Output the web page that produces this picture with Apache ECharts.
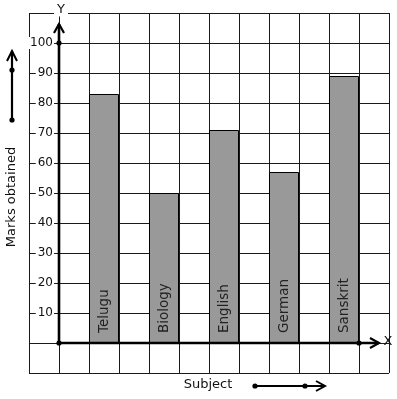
<!DOCTYPE html>
<html><head><meta charset="utf-8">
<script src="https://cdn.jsdelivr.net/npm/echarts@6/dist/echarts.min.js"></script>
<style>html,body{margin:0;padding:0;background:#fff}#c{width:397px;height:399px}</style>
</head><body><div id="c"></div>
<script>
const subjects = ['Telugu', 'Biology', 'English', 'German', 'Sanskrit'];
const marks = [83, 50, 71, 57, 89];
const yTickLabels = [10, 20, 30, 40, 50, 60, 70, 80, 90, 100];
const xAxisLetter = 'X';
const yAxisLetter = 'Y';
const xTitle = 'Subject';
const yTitle = 'Marks obtained';

const FONT = 'DejaVu Sans';
const chart = echarts.init(document.getElementById('c'), null, {renderer: 'canvas'});
const barData = subjects.map((s, i) => ({name: s, value: [1.5 + 2 * i, marks[i]]}));
const gridLine = {show: true, lineStyle: {color: '#1a1a1a', width: 1}};

chart.setOption({
  animation: false,
  grid: {left: 29, top: 13, width: 360, height: 360, containLabel: false},
  xAxis: {type: 'value', min: -1, max: 11, interval: 1,
    axisLine: {show: false}, axisTick: {show: false}, axisLabel: {show: false}, splitLine: gridLine},
  yAxis: {type: 'value', min: -10, max: 110, interval: 10,
    axisLine: {show: false}, axisTick: {show: false}, splitLine: gridLine,
    axisLabel: {inside: true, margin: 25, align: 'right', fontSize: 12, color: '#111', fontFamily: FONT,
      backgroundColor: '#fff', padding: [0, 1, 0, 2],
      formatter: v => yTickLabels.includes(v) ? String(v) : ''}},
  series: [{type: 'bar', data: barData, barWidth: 30,
    itemStyle: {color: '#999999', borderColor: '#000', borderWidth: 1},
    label: {show: true, position: 'insideBottom', rotate: 90, align: 'left', verticalAlign: 'middle',
      distance: 10, formatter: p => p.name, fontSize: 13.5, color: '#222', fontFamily: FONT}}]
});

const o = chart.convertToPixel({gridIndex: 0}, [0, 0]);
const y100 = chart.convertToPixel({gridIndex: 0}, [0, 100]);
const x10 = chart.convertToPixel({gridIndex: 0}, [10, 0]);
const yTip = y100[1] - 19, xTip = x10[0] + 20;
const stroke = (w) => ({stroke: '#000', lineWidth: w, fill: null});
const dot = (x, y) => ({type: 'circle', shape: {cx: x, cy: y, r: 2.6}, style: {fill: '#000'}, z: 101});
const txt = (t, x, y, extra) => Object.assign({type: 'text', z: 102,
  style: Object.assign({text: t, x: x, y: y, fill: '#111', font: '13px "' + FONT + '"', align: 'center', verticalAlign: 'middle'}, extra || {})});

chart.setOption({graphic: [
  {type: 'polyline', shape: {points: [[o[0], o[1]], [o[0], yTip]]}, style: stroke(2.6), z: 100},
  {type: 'polyline', shape: {points: [[o[0] - 5, yTip + 9], [o[0], yTip], [o[0] + 5, yTip + 9]]}, style: stroke(2.2), z: 100},
  {type: 'polyline', shape: {points: [[o[0], o[1]], [xTip, o[1]]]}, style: stroke(2.6), z: 100},
  {type: 'polyline', shape: {points: [[xTip - 9, o[1] - 5], [xTip, o[1]], [xTip - 9, o[1] + 5]]}, style: stroke(2.2), z: 100},
  dot(o[0], o[1]), dot(y100[0], y100[1]), dot(x10[0], x10[1]),
  txt(yAxisLetter, o[0] + 2, 10, {backgroundColor: '#fff', padding: [0, 3]}),
  txt(xAxisLetter, xTip + 9, o[1] - 1),
  // left decorative arrow
  {type: 'polyline', shape: {points: [[12, 120], [12, 51]]}, style: stroke(2.2), z: 100},
  {type: 'polyline', shape: {points: [[7, 61], [12, 51], [17, 61]]}, style: stroke(2), z: 100},
  dot(12, 120), dot(12, 70),
  // bottom decorative arrow
  {type: 'polyline', shape: {points: [[255, 386], [325, 386]]}, style: stroke(2.2), z: 100},
  {type: 'polyline', shape: {points: [[316, 381], [325, 386], [316, 391]]}, style: stroke(2), z: 100},
  dot(255, 386), dot(305, 386),
  txt(xTitle, 208, 385),
  txt(yTitle, 12, 197, {}) && Object.assign(txt(yTitle, 0, 0), {x: 12, y: 197, rotation: Math.PI / 2})
]});
</script></body></html>
